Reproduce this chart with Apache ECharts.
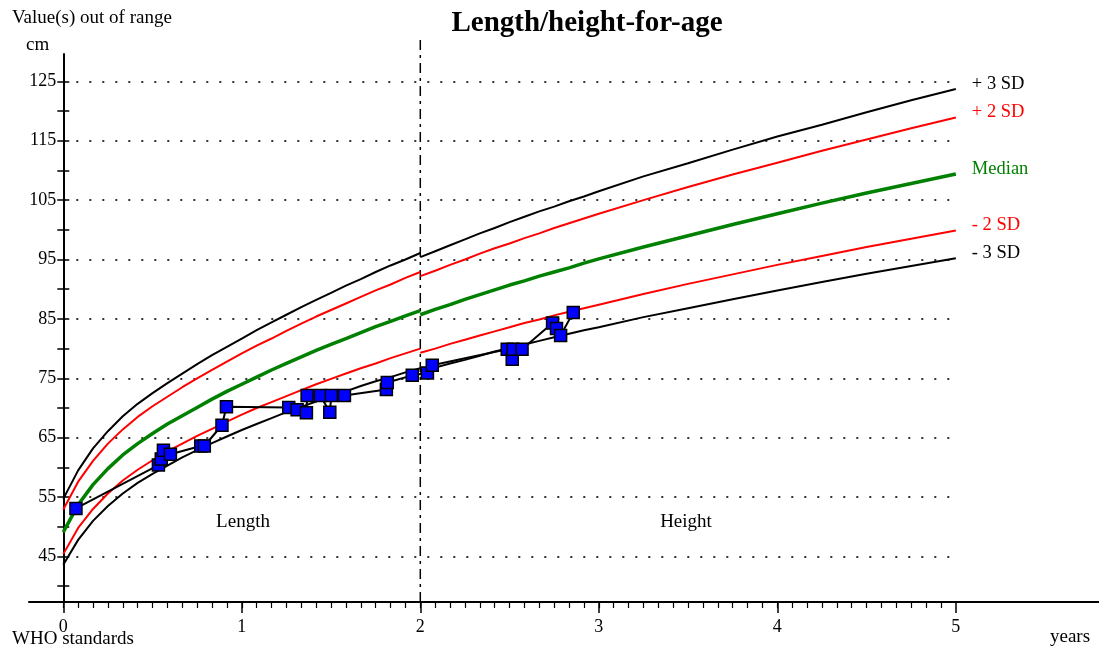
<!DOCTYPE html>
<html><head><meta charset="utf-8">
<script src="https://cdn.jsdelivr.net/npm/echarts@6/dist/echarts.min.js"></script>
<style>html,body{margin:0;padding:0;background:#fff}#c{width:1099px;height:650px}</style>
</head><body><div id="c"></div>
<script>
// WHO length-for-age (girls), 0-24 months
const lengthAgeMonths = [0,1,2,3,4,5,6,7,8,9,10,11,12,13,14,15,16,17,18,19,20,21,22,23,24];
const lenSDm3 = [43.6,47.8,51.0,53.5,55.6,57.4,58.9,60.3,61.7,62.9,64.1,65.2,66.3,67.3,68.3,69.3,70.2,71.1,72.0,72.8,73.7,74.5,75.2,76.0,76.7];
const lenSDm2 = [45.4,49.8,53.0,55.6,57.8,59.6,61.2,62.7,64.0,65.3,66.5,67.7,68.9,70.0,71.0,72.0,73.0,74.0,74.9,75.8,76.7,77.5,78.4,79.2,80.0];
const lenMed  = [49.1,53.7,57.1,59.8,62.1,64.0,65.7,67.3,68.7,70.1,71.5,72.8,74.0,75.2,76.4,77.5,78.6,79.7,80.7,81.7,82.7,83.7,84.6,85.5,86.4];
const lenSDp2 = [52.9,57.6,61.1,64.0,66.4,68.5,70.3,71.9,73.5,75.0,76.4,77.8,79.2,80.5,81.7,83.0,84.2,85.4,86.5,87.6,88.7,89.8,90.8,91.9,92.9];
const lenSDp3 = [54.7,59.5,63.2,66.1,68.6,70.7,72.5,74.2,75.8,77.4,78.9,80.3,81.7,83.1,84.4,85.7,87.0,88.2,89.4,90.6,91.7,92.9,94.0,95.0,96.1];
// WHO height-for-age (girls), 24-60 months
const heightAgeMonths = [24,25,26,27,28,29,30,31,32,33,34,35,36,39,42,45,48,51,54,57,60];
const htSDm3 = [76.0,76.8,77.5,78.1,78.8,79.5,80.1,80.7,81.3,81.9,82.5,83.1,83.6,85.3,86.8,88.3,89.8,91.2,92.6,93.9,95.2];
const htSDm2 = [79.3,80.0,80.8,81.5,82.2,82.9,83.6,84.3,84.9,85.6,86.2,86.8,87.4,89.2,90.9,92.5,94.1,95.6,97.1,98.5,99.9];
const htMed  = [85.7,86.6,87.4,88.3,89.1,89.9,90.7,91.4,92.2,92.9,93.6,94.4,95.1,97.1,99.0,100.9,102.7,104.5,106.2,107.8,109.4];
const htSDp2 = [92.2,93.1,94.1,95.0,96.0,96.9,97.7,98.6,99.4,100.3,101.1,101.9,102.7,105.0,107.2,109.3,111.3,113.3,115.2,117.1,118.9];
const htSDp3 = [95.4,96.4,97.4,98.4,99.4,100.3,101.3,102.2,103.1,103.9,104.8,105.6,106.5,109.0,111.2,113.5,115.7,117.7,119.8,121.8,123.7];
// child's measurements
const patientAgeYears = [0.071,0.533,0.549,0.561,0.600,0.770,0.790,0.889,0.914,1.263,1.310,1.362,1.366,1.440,1.493,1.502,1.575,1.810,1.815,1.955,2.040,2.067,2.487,2.515,2.520,2.570,2.741,2.763,2.786,2.857];
const patientCm       = [53.1,60.4,61.4,62.9,62.2,63.6,63.6,67.1,70.2,70.1,69.7,69.2,72.1,72.1,69.3,72.1,72.1,73.1,74.3,75.5,75.9,77.2,79.9,78.2,79.9,79.9,84.3,83.4,82.2,86.1];
// boundary between length and height
const boundaryAge = [2, 2];
const boundarySpan = [0, 1];
// axes
const xMajorTicks = [0,1,2,3,4,5];
const xMinorTicks = Array.from({length:60},(_,i)=>i/12);
const yTicks = [40,45,50,55,60,65,70,75,80,85,90,95,100,105,110,115,120,125];
const yLabels = [45,55,65,75,85,95,105,115,125];
const curveNames = ['+ 3 SD','+ 2 SD','Median','- 2 SD','- 3 SD'];
const curveColors = ['#000000','#ff0000','#008000','#ff0000','#000000'];
const curveWidths = [2,2,3.5,2,2];
const lenCurves = [lenSDp3,lenSDp2,lenMed,lenSDm2,lenSDm3];
const htCurves = [htSDp3,htSDp2,htMed,htSDm2,htSDm3];

const FONT = '"Liberation Serif","Times New Roman",serif';
const Y_MIN = 37.34, Y_MAX = 129.6;
const X_MIN = -0.192, X_MAX = 5.802;
const Y_AXIS_SHIFT = -34.3; // y axis sits at age 0

const series = [];
lenCurves.forEach((arr,i)=>{
  series.push({
    type:'line', xAxisIndex:0, yAxisIndex:0, showSymbol:false, smooth:false,
    data: lengthAgeMonths.map((m,j)=>[m/12, arr[j]]),
    lineStyle:{color:curveColors[i], width:curveWidths[i]}, z:2, silent:true
  });
});
htCurves.forEach((arr,i)=>{
  series.push({
    type:'line', xAxisIndex:0, yAxisIndex:0, showSymbol:false, smooth:false,
    data: heightAgeMonths.map((m,j)=>[m/12, arr[j]]),
    lineStyle:{color:curveColors[i], width:curveWidths[i]}, z:2, silent:true,
    endLabel:{show:true, formatter:curveNames[i], color:curveColors[i], fontFamily:FONT, fontSize:18.5, distance:16, offset:[0,-5]}
  });
});
series.push({
  type:'line', xAxisIndex:0, yAxisIndex:0, clip:false,
  data: patientAgeYears.map((a,j)=>[a, patientCm[j]]),
  symbol:'rect', symbolSize:12, showSymbol:true,
  itemStyle:{color:'#0000ff', borderColor:'#000', borderWidth:1.5},
  lineStyle:{color:'#000', width:2}, z:5, silent:true
});
series.push({
  type:'line', xAxisIndex:3, yAxisIndex:3, showSymbol:false, silent:true,
  data: boundaryAge.map((a,j)=>[a, boundarySpan[j]]),
  lineStyle:{color:'#000', width:1.5, type:[10,5,3,5]}, z:1
});

const chart = echarts.init(document.getElementById('c'), null, {renderer:'canvas'});
chart.setOption({
  animation:false,
  backgroundColor:'#fff',
  grid:[
    {left:29, right:0, top:54, bottom:48, outerBoundsMode:'none', containLabel:false},
    {left:63.3, right:143.2, top:54, bottom:48, outerBoundsMode:'none', containLabel:false},
    {left:29, right:0, top:35, bottom:48, outerBoundsMode:'none', containLabel:false}
  ],
  xAxis:[
    {type:'value', gridIndex:0, min:X_MIN, max:X_MAX, position:'bottom',
     axisLine:{show:true, onZero:false, lineStyle:{color:'#000', width:2}},
     axisTick:{show:true, customValues:xMajorTicks, length:11, lineStyle:{color:'#000', width:1.5}},
     axisLabel:{show:true, customValues:xMajorTicks, margin:16, color:'#000', fontFamily:FONT, fontSize:18},
     splitLine:{show:false}},
    {type:'value', gridIndex:0, min:X_MIN, max:X_MAX, position:'bottom',
     axisLine:{show:false, onZero:false},
     axisTick:{show:true, customValues:xMinorTicks, length:6, lineStyle:{color:'#000', width:1.2}},
     axisLabel:{show:false}, splitLine:{show:false}},
    {type:'value', gridIndex:1, min:0, max:5, show:false},
    {type:'value', gridIndex:2, min:X_MIN, max:X_MAX, show:false}
  ],
  yAxis:[
    {type:'value', gridIndex:0, min:Y_MIN, max:Y_MAX, position:'left', offset:Y_AXIS_SHIFT,
     axisLine:{show:true, onZero:false, lineStyle:{color:'#000', width:2}},
     axisTick:{show:true, customValues:yTicks, length:6, lineStyle:{color:'#000', width:1.5}},
     axisLabel:{show:true, customValues:yLabels, margin:7, color:'#000', fontFamily:FONT, fontSize:18},
     splitLine:{show:false}},
    {type:'value', gridIndex:0, min:Y_MIN, max:Y_MAX, position:'left', offset:Y_AXIS_SHIFT,
     axisLine:{show:false, onZero:false},
     axisTick:{show:true, inside:true, customValues:yTicks, length:6, lineStyle:{color:'#000', width:1.5}},
     axisLabel:{show:false}, splitLine:{show:false}},
    {type:'value', gridIndex:1, min:Y_MIN, max:Y_MAX, position:'left',
     axisLine:{show:false, onZero:false}, axisLabel:{show:false},
     axisTick:{show:false, customValues:yLabels},
     splitLine:{show:true, lineStyle:{color:'#333', width:2, type:[2,11]}}},
    {type:'value', gridIndex:2, min:0, max:1, show:false}
  ],
  graphic:[
    {type:'text', x:12, y:18, style:{text:'Value(s) out of range', font:'19px '+FONT, fill:'#000', verticalAlign:'middle'}},
    {type:'text', x:26, y:45, style:{text:'cm', font:'19px '+FONT, fill:'#000', verticalAlign:'middle'}},
    {type:'text', x:587, y:24, style:{text:'Length/height-for-age', font:'bold 29px '+FONT, fill:'#000', align:'center', verticalAlign:'middle'}},
    {type:'text', x:12, y:639, style:{text:'WHO standards', font:'19px '+FONT, fill:'#000', verticalAlign:'middle'}},
    {type:'text', x:1050, y:637, style:{text:'years', font:'19px '+FONT, fill:'#000', verticalAlign:'middle'}},
    {type:'text', x:243, y:522, style:{text:'Length', font:'19px '+FONT, fill:'#000', align:'center', verticalAlign:'middle'}},
    {type:'text', x:686, y:522, style:{text:'Height', font:'19px '+FONT, fill:'#000', align:'center', verticalAlign:'middle'}}
  ],
  series: series
});
</script></body></html>
